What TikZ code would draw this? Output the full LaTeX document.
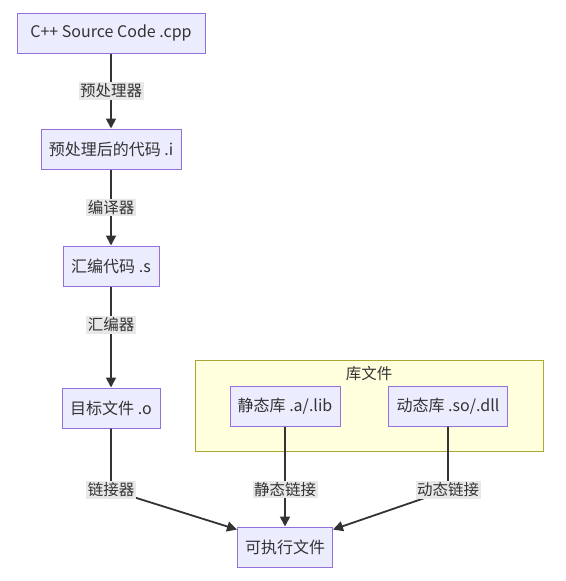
\documentclass[tikz,border=0pt]{standalone}
\usepackage{fontspec}
\setmainfont{Noto Sans CJK SC}
\usetikzlibrary {arrows.meta,
                 positioning}
\definecolor{nodefill}{HTML}{ECECFF}
\definecolor{nodeline}{HTML}{9370DB}
\definecolor{libfill}{HTML}{FFFFDE}
\definecolor{libline}{HTML}{AAAA33}
\definecolor{lblfill}{HTML}{E8E8E8}
\definecolor{edgeline}{HTML}{333333}
\tikzset{
        base/.style={draw=nodeline, fill=nodefill, line width=1pt, align=center,
                     minimum height=40pt, text=edgeline,
                     font=\fontsize{16}{19}\selectfont},
        proc/.style={base, rectangle, inner xsep=2pt},
        cluster/.style={draw=libline, fill=libfill, line width=1pt,
                        minimum width=348pt, minimum height=91pt},
        lbl/.style={fill=lblfill, inner sep=1.5pt, text=edgeline,
                    font=\fontsize{15.5}{18}\selectfont},
        myarrow/.style={-{Triangle[length=10pt, width=10pt]}, line width=1.8pt,
                        draw=edgeline},
 }
\begin{document}
\begin{tikzpicture}[x=1pt, y=-1pt]
    \useasboundingbox (0,0) rectangle (565,581);
    % main chain
    \node[proc, minimum width=188pt] (src) at (111,33) {C++ Source Code .cpp};
    \node[proc, minimum width=140pt] (pre) at (111,149) {预处理后的代码 .i};
    \node[proc, minimum width=96pt]  (asm) at (111,266) {汇编代码 .s};
    \node[proc, minimum width=98pt]  (obj) at (111,408) {目标文件 .o};
    \node[proc, minimum width=95pt]  (exe) at (285,547) {可执行文件};

    % library group
    \node[cluster] (lib) at (369,406) {};
    \node[lbl, fill=none] (libtitle) at (369,374) {库文件};
    \node[proc, minimum width=110pt] (stat) at (285,406) {静态库 .a/.lib};
    \node[proc, minimum width=119pt] (dyn) at (448,406) {动态库 .so/.dll};

    \coordinate (b1) at (111,490);
    \coordinate (b2) at (448,490);

    \draw[myarrow] (src) -- (pre) node[midway, lbl] {预处理器};
    \draw[myarrow] (pre) -- (asm) node[midway, lbl] {编译器};
    \draw[myarrow] (asm) -- (obj) node[pos=0.38, lbl] {汇编器};
    \draw[myarrow] (obj) -- (b1) node[lbl] {链接器} -- (exe.160);
    \draw[myarrow] (stat) -- (exe) node[pos=0.63, lbl] {静态链接};
    \draw[myarrow] (dyn) -- (b2) node[lbl] {动态链接} -- (exe.20);

\end{tikzpicture}
\end{document}
